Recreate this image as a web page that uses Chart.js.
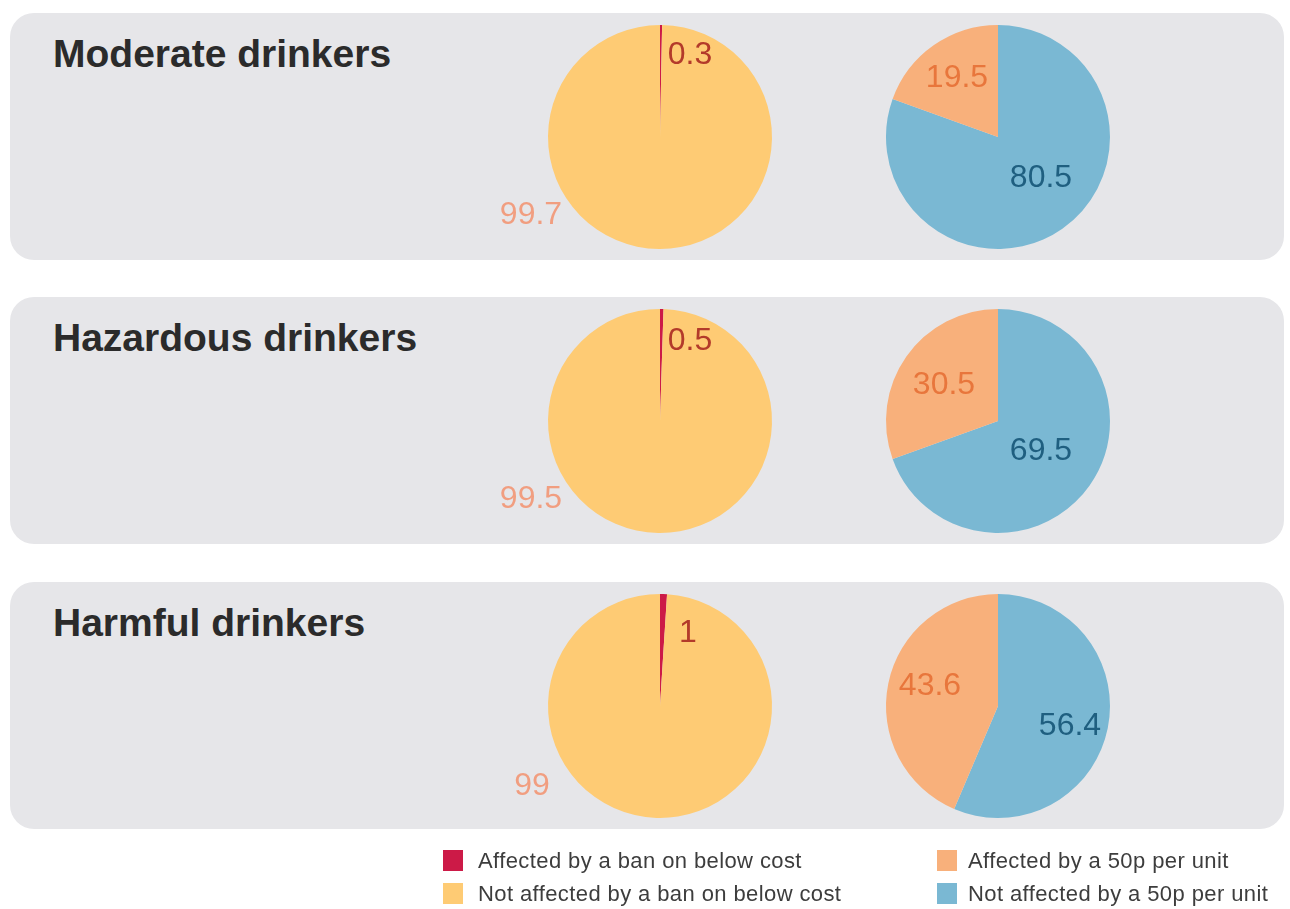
<!DOCTYPE html>
<html>
<head>
<meta charset="utf-8">
<script src="https://cdn.jsdelivr.net/npm/chart.js@4.4.0/dist/chart.umd.min.js"></script>
<style>
  html,body{margin:0;padding:0;background:#fff;width:1290px;height:909px;overflow:hidden;font-family:"Liberation Sans",Arial,sans-serif;}
  .panel{position:absolute;left:10px;width:1274px;height:247px;background:#e6e6e9;border-radius:24px;}
  .title{position:absolute;left:53px;font-weight:bold;font-size:39px;color:#2b2b2b;line-height:1;}
  canvas{position:absolute;}
  .leg{position:absolute;font-size:22px;letter-spacing:0.4px;color:#3d3d3d;line-height:22px;white-space:nowrap;}
  .sw{position:absolute;width:20px;height:21px;}
</style>
</head>
<body>
<div id="root"></div>
<script>
// ---- data ----
const groups = ["Moderate drinkers", "Hazardous drinkers", "Harmful drinkers"];
const banLabels = ["Affected by a ban on below cost", "Not affected by a ban on below cost"];
const unitLabels = ["Affected by a 50p per unit", "Not affected by a 50p per unit"];
const banAffected = [0.3, 0.5, 1];
const banNotAffected = [99.7, 99.5, 99];
const unitAffected = [19.5, 30.5, 43.6];
const unitNotAffected = [80.5, 69.5, 56.4];

// ---- styles / layout ----
const colors = { banA: "#cc1a47", banN: "#fecb74", unitA: "#f8b07b", unitN: "#7ab8d3" };
const labelColors = { banA: "#b33a2a", banN: "#f19e80", unitA: "#e8763c", unitN: "#1f5f80" };
const panelTops = [13, 297, 582];
const pieCenterOffsetY = 124;
const leftPieX = 660, rightPieX = 998, pieR = 112;
const canvasW = 360, canvasH = 300;
// label offsets from pie centre (dx, dy) per group
const banLabelPos = [
  { a: [30, -82], n: [-129, 78] },
  { a: [30, -80], n: [-129, 78] },
  { a: [28, -73], n: [-128, 80] }
];
const unitLabelPos = [
  { a: [-41, -59], n: [43, 41] },
  { a: [-54, -36], n: [43, 30] },
  { a: [-68, -20], n: [72, 20] }
];

const root = document.getElementById('root');

const labelPlugin = {
  id: 'valLabels',
  afterDatasetsDraw(chart, args, opts) {
    const ctx = chart.ctx;
    const meta = chart.getDatasetMeta(0);
    const arc = meta.data[0];
    const cx = arc.x, cy = arc.y;
    ctx.save();
    ctx.font = '32px "Liberation Sans", Arial, sans-serif';
    ctx.textAlign = 'center';
    ctx.textBaseline = 'middle';
    chart.data.datasets[0].data.forEach((v, i) => {
      const p = opts.pos[i];
      ctx.fillStyle = opts.colors[i];
      ctx.fillText(String(v), cx + p[0], cy + p[1]);
    });
    ctx.restore();
  }
};

function makePie(cx, cy, values, cols, lcols, pos, labels) {
  const c = document.createElement('canvas');
  c.width = canvasW; c.height = canvasH;
  c.style.left = (cx - canvasW / 2) + 'px';
  c.style.top = (cy - canvasH / 2) + 'px';
  c.style.width = canvasW + 'px'; c.style.height = canvasH + 'px';
  root.appendChild(c);
  new Chart(c, {
    type: 'pie',
    data: { labels: labels, datasets: [{ data: values, backgroundColor: cols, borderWidth: 0, hoverOffset: 0, radius: pieR }] },
    options: {
      responsive: false, animation: false, events: [],
      layout: { padding: 0 },
      plugins: { legend: { display: false }, tooltip: { enabled: false },
        valLabels: { pos: pos, colors: lcols } }
    },
    plugins: [labelPlugin]
  });
}

groups.forEach((g, i) => {
  const top = panelTops[i];
  const p = document.createElement('div');
  p.className = 'panel'; p.style.top = top + 'px';
  root.appendChild(p);
  const t = document.createElement('div');
  t.className = 'title'; t.textContent = g; t.style.top = (top + 21) + 'px';
  root.appendChild(t);
  const cy = top + pieCenterOffsetY;
  makePie(leftPieX, cy, [banAffected[i], banNotAffected[i]],
    [colors.banA, colors.banN], [labelColors.banA, labelColors.banN],
    [banLabelPos[i].a, banLabelPos[i].n], banLabels);
  makePie(rightPieX, cy, [unitNotAffected[i], unitAffected[i]],
    [colors.unitN, colors.unitA], [labelColors.unitN, labelColors.unitA],
    [unitLabelPos[i].n, unitLabelPos[i].a], [unitLabels[1], unitLabels[0]]);
});

// legend
const legendItems = [
  { text: banLabels[0], color: colors.banA, x: 443, tx: 478, y: 850 },
  { text: banLabels[1], color: colors.banN, x: 443, tx: 478, y: 883 },
  { text: unitLabels[0], color: colors.unitA, x: 937, tx: 968, y: 850 },
  { text: unitLabels[1], color: colors.unitN, x: 937, tx: 968, y: 883 }
];
legendItems.forEach(it => {
  const s = document.createElement('div');
  s.className = 'sw'; s.style.left = it.x + 'px'; s.style.top = it.y + 'px'; s.style.background = it.color;
  root.appendChild(s);
  const l = document.createElement('div');
  l.className = 'leg'; l.style.left = it.tx + 'px'; l.style.top = it.y + 'px'; l.textContent = it.text;
  root.appendChild(l);
});
</script>
</body>
</html>
